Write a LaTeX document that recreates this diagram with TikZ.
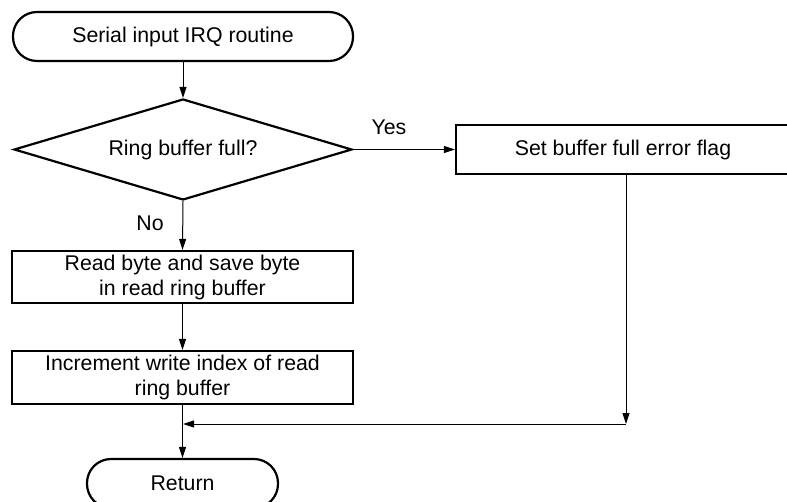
\documentclass[tikz,border=0pt]{standalone}
\usepackage{fontspec}
\setmainfont{Liberation Sans}
\usetikzlibrary{shapes.geometric,arrows.meta}
\begin{document}
\begin{tikzpicture}[x=1pt,y=-1pt,
  every node/.style={font=\fontsize{21.3}{25}\selectfont},
  procbox/.style={draw,line width=2.2pt,rectangle,inner sep=0pt,align=center},
  termbox/.style={draw,line width=2.2pt,rectangle,rounded corners=24pt,inner sep=0pt},
  decbox/.style={draw,line width=2.2pt,diamond,inner sep=0pt,aspect=3.35},
  conn/.style={line width=1pt,-{Triangle[length=11pt,width=7pt]}},
  lbl/.style={inner sep=0pt}]
\useasboundingbox (0,0) rectangle (787,502);
\clip (0,0) rectangle (787,502);
\node[termbox,minimum width=340pt,minimum height=49pt] (start) at (183,36.5) {Serial input IRQ routine};
\node[decbox,minimum width=338pt,minimum height=101pt] (dec) at (183,149.5) {Ring buffer full?};
\node[procbox,minimum width=334pt,minimum height=49pt] (set) at (623,149.5) {Set buffer full error flag};
\node[procbox,minimum width=341pt,minimum height=52pt] (read) at (182.5,277) {Read byte and save byte\\in read ring buffer};
\node[procbox,minimum width=341pt,minimum height=53pt] (inc) at (182.5,377.5) {Increment write index of read\\ring buffer};
\node[termbox,minimum width=191pt,minimum height=49pt] (ret) at (182.5,483.5) {Return};
\coordinate (corner) at (626,424);
\coordinate (join) at (183,424);
\node[lbl] (yes) at (389,127) {Yes};
\node[lbl] (no) at (150,223) {No};
\draw[conn] (start) -- (dec);
\draw[conn] (dec.east) -- (set.west);
\draw[conn] (dec.south) -- (read.north);
\draw[conn] (read) -- (inc);
\draw[conn] (inc.south) -- (ret.north);
\draw[conn] (set.south -| corner) -- (corner);
\draw[conn] (corner) -- (join);
\end{tikzpicture}
\end{document}
